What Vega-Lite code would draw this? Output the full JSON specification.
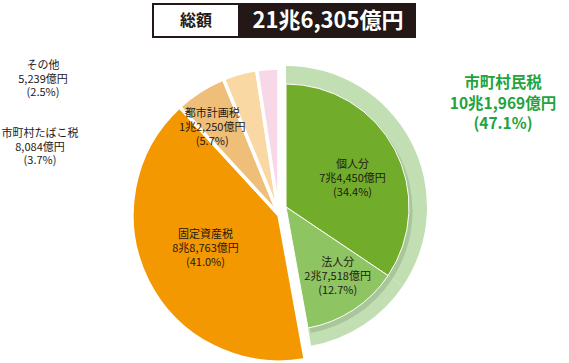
{
  "$schema": "https://vega.github.io/schema/vega-lite/v6.json",
  "background": "white",
  "padding": {"top": 3, "left": 0, "right": 0, "bottom": 0},
  "config": {"view": {"stroke": null}, "font": "Noto Sans CJK JP", "text": {"font": "Noto Sans CJK JP"}},
  "datasets": {
    "slices": [
      {"idx": 1, "name": "個人分", "group": "市町村民税", "value": 74450, "label": ["個人分", "7兆4,450億円", "(34.4%)"], "ring": ["市町村民税", "10兆1,969億円", "(47.1%)"]},
      {"idx": 2, "name": "法人分", "group": "市町村民税", "value": 27518, "label": ["法人分", "2兆7,518億円", "(12.7%)"]},
      {"idx": 3, "name": "固定資産税", "group": "固定資産税", "value": 88763, "label": ["固定資産税", "8兆8,763億円", "(41.0%)"]},
      {"idx": 4, "name": "都市計画税", "group": "都市計画税", "value": 12250, "label": ["都市計画税", "1兆2,250億円", "(5.7%)"]},
      {"idx": 5, "name": "市町村たばこ税", "group": "市町村たばこ税", "value": 8084, "label": ["市町村たばこ税", "8,084億円", "(3.7%)"]},
      {"idx": 6, "name": "その他", "group": "その他", "value": 5239, "label": ["その他", "5,239億円", "(2.5%)"]}
    ]
  },
  "spacing": 0,
  "center": true,
  "vconcat": [
    {
      "spacing": 0,
      "hconcat": [
        {
          "data": {"values": [{"t": "総額"}]},
          "width": 86, "height": 33,
          "view": {"fill": "white", "stroke": "#231815", "strokeWidth": 2},
          "mark": {"type": "text", "fontSize": 16, "fontWeight": "bold", "color": "#231815"},
          "encoding": {"text": {"field": "t", "type": "nominal"}}
        },
        {
          "data": {"values": [{"t": "21兆6,305億円"}]},
          "width": 174, "height": 33,
          "view": {"fill": "#231815", "stroke": "#231815", "strokeWidth": 2},
          "mark": {"type": "text", "fontSize": 22, "fontWeight": "bold", "color": "white"},
          "encoding": {"text": {"field": "t", "type": "nominal"}}
        }
      ]
    },
    {
      "width": 569,
      "height": 327,
      "data": {"name": "slices"},
      "layer": [
        {
          "mark": {"type": "arc", "radius": 141, "color": "#C2DFB3", "xOffset": 1.5, "yOffset": 5.5},
          "encoding": {
            "theta": {"field": "value", "type": "quantitative", "stack": true},
            "order": {"field": "idx", "type": "quantitative"},
            "detail": {"field": "name", "type": "nominal"},
            "opacity": {"condition": {"test": "datum.group === '市町村民税'", "value": 1}, "value": 0}
          }
        },
        {
          "mark": {"type": "arc", "radius": 124, "color": "#4f6e42", "xOffset": 4, "yOffset": 9.5},
          "encoding": {
            "theta": {"field": "value", "type": "quantitative", "stack": true},
            "order": {"field": "idx", "type": "quantitative"},
            "detail": {"field": "name", "type": "nominal"},
            "opacity": {"condition": {"test": "datum.group === '市町村民税'", "value": 0.22}, "value": 0}
          }
        },
        {
          "mark": {"type": "arc", "radius": 123, "stroke": "white", "strokeWidth": 1, "xOffset": 1.5, "yOffset": 5.5},
          "encoding": {
            "theta": {"field": "value", "type": "quantitative", "stack": true},
            "order": {"field": "idx", "type": "quantitative"},
            "color": {"field": "name", "type": "nominal", "legend": null,
              "scale": {"domain": ["個人分", "法人分", "固定資産税", "都市計画税", "市町村たばこ税", "その他"],
                        "range": ["#72AC2B", "#8EC462", "#F39800", "#EFBF7A", "#FAD8A3", "#F8D8E6"]}},
            "opacity": {"condition": {"test": "datum.group === '市町村民税'", "value": 1}, "value": 0}
          }
        },
        {
          "mark": {"type": "arc", "radius": 147, "stroke": "white", "strokeWidth": 3.5, "xOffset": -5.5, "yOffset": 13.5},
          "encoding": {
            "theta": {"field": "value", "type": "quantitative", "stack": true},
            "order": {"field": "idx", "type": "quantitative"},
            "color": {"field": "name", "type": "nominal", "legend": null},
            "opacity": {"condition": {"test": "datum.group !== '市町村民税'", "value": 1}, "value": 0}
          }
        },
        {
          "mark": {"type": "text", "radius": 72, "xOffset": 1.5, "yOffset": 5.5, "dx": 3, "dy": -8, "fontSize": 11, "lineHeight": 14, "color": "#231815"},
          "encoding": {
            "theta": {"field": "value", "type": "quantitative", "stack": true},
            "order": {"field": "idx", "type": "quantitative"},
            "detail": {"field": "name", "type": "nominal"},
            "text": {"condition": {"test": "datum.name === '個人分'", "field": "label"}, "value": ""}
          }
        },
        {
          "mark": {"type": "text", "radius": 87, "xOffset": 1.5, "yOffset": 5.5, "dx": 4, "dy": -17, "fontSize": 11, "lineHeight": 14, "color": "#231815"},
          "encoding": {
            "theta": {"field": "value", "type": "quantitative", "stack": true},
            "order": {"field": "idx", "type": "quantitative"},
            "detail": {"field": "name", "type": "nominal"},
            "text": {"condition": {"test": "datum.name === '法人分'", "field": "label"}, "value": ""}
          }
        },
        {
          "mark": {"type": "text", "radius": 81, "xOffset": -5.5, "yOffset": 13.5, "dx": -1, "dy": -16, "fontSize": 11, "lineHeight": 14, "color": "#231815"},
          "encoding": {
            "theta": {"field": "value", "type": "quantitative", "stack": true},
            "order": {"field": "idx", "type": "quantitative"},
            "detail": {"field": "name", "type": "nominal"},
            "text": {"condition": {"test": "datum.name === '固定資産税'", "field": "label"}, "value": ""}
          }
        },
        {
          "mark": {"type": "text", "radius": 108, "xOffset": -5.5, "yOffset": 13.5, "dx": -9, "dy": -10, "fontSize": 11, "lineHeight": 14, "color": "#231815"},
          "encoding": {
            "theta": {"field": "value", "type": "quantitative", "stack": true},
            "order": {"field": "idx", "type": "quantitative"},
            "detail": {"field": "name", "type": "nominal"},
            "text": {"condition": {"test": "datum.name === '都市計画税'", "field": "label"}, "value": ""}
          }
        },
        {
          "transform": [{"filter": "datum.name === 'その他'"}],
          "mark": {"type": "text", "dx": -241.5, "dy": -135.5, "fontSize": 11, "lineHeight": 13.5, "color": "#231815"},
          "encoding": {"text": {"field": "label", "type": "nominal"}}
        },
        {
          "transform": [{"filter": "datum.name === '市町村たばこ税'"}],
          "mark": {"type": "text", "dx": -244.5, "dy": -67.5, "fontSize": 11, "lineHeight": 13.5, "color": "#231815"},
          "encoding": {"text": {"field": "label", "type": "nominal"}}
        },
        {
          "transform": [{"filter": "datum.name === '個人分'"}],
          "mark": {"type": "text", "dx": 218.5, "dy": -118.5, "fontSize": 15.5, "fontWeight": "bold", "lineHeight": 20.5, "color": "#22A33B"},
          "encoding": {"text": {"field": "ring", "type": "nominal"}}
        }
      ]
    }
  ]
}
